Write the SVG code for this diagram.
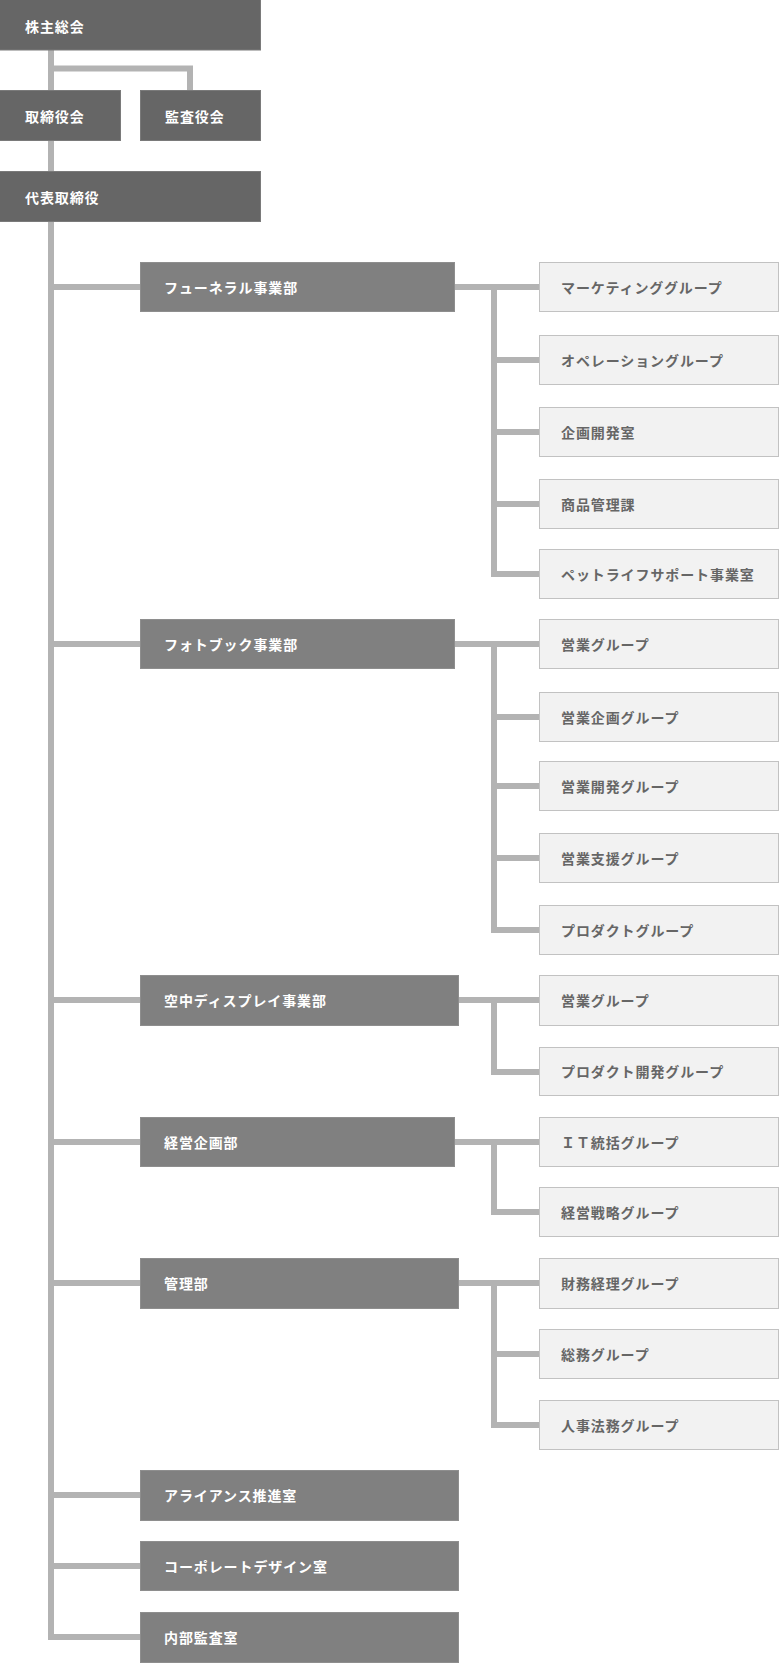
<svg xmlns="http://www.w3.org/2000/svg" width="780" height="1663" viewBox="0 0 780 1663">
<style>
.top{fill:#666666;stroke:#7a7a7a;stroke-width:1}
.div{fill:#808080;stroke:#8e8e8e;stroke-width:1}
.ch{fill:#f2f2f2;stroke:#c2c2c2;stroke-width:1}
text{font-family:"Noto Sans CJK JP","Noto Sans",sans-serif;font-size:14px;font-weight:bold;letter-spacing:0.9px;dominant-baseline:central}
.w{fill:#ffffff}
.g{fill:#666666}
.c{fill:none;stroke:#b3b3b3;stroke-width:6;stroke-linejoin:miter;stroke-linecap:butt}
</style>
<rect width="780" height="1663" fill="#ffffff"/>
<g id="connectors">
<path class="c" d="M51 50 V1637 H140"/>
<path class="c" d="M51 68.5 H190 V90"/>
<path class="c" d="M51 287 H140 M51 644 H140 M51 1000 H140 M51 1142 H140 M51 1283 H140 M51 1495 H140 M51 1566 H140"/>
<path class="c" d="M455 287 H539 M494 287 V574 H539 M494 360 H539 M494 432 H539 M494 504 H539"/>
<path class="c" d="M455 644 H539 M494 644 V930 H539 M494 717 H539 M494 786 H539 M494 858 H539"/>
<path class="c" d="M459 1000 H539 M494 1000 V1072 H539"/>
<path class="c" d="M455 1142 H539 M494 1142 V1212 H539"/>
<path class="c" d="M459 1283 H539 M494 1283 V1425 H539 M494 1354 H539"/>
</g>
<g id="n-kabunushi"><rect class="top" x="-1" y="-1" width="261.5" height="51"/><text class="w" x="25" y="25.5">株主総会</text></g>
<g id="n-torishimariyakukai"><rect class="top" x="-1" y="90.5" width="121.5" height="50"/><text class="w" x="25" y="115.5">取締役会</text></g>
<g id="n-kansayakukai"><rect class="top" x="140.5" y="90.5" width="120" height="50"/><text class="w" x="165" y="115.5">監査役会</text></g>
<g id="n-daihyo"><rect class="top" x="-1" y="171.5" width="261.5" height="50"/><text class="w" x="25" y="196.5">代表取締役</text></g>

<g id="d-funeral"><rect class="div" x="140.5" y="262.5" width="314" height="49"/><text class="w" x="164" y="287">フューネラル事業部</text></g>
<g id="d-photobook"><rect class="div" x="140.5" y="619.5" width="314" height="49"/><text class="w" x="164" y="644">フォトブック事業部</text></g>
<g id="d-kuchu"><rect class="div" x="140.5" y="975.5" width="318" height="50"/><text class="w" x="164" y="1000">空中ディスプレイ事業部</text></g>
<g id="d-keiei"><rect class="div" x="140.5" y="1117.5" width="314" height="49"/><text class="w" x="164" y="1142">経営企画部</text></g>
<g id="d-kanri"><rect class="div" x="140.5" y="1258.5" width="318" height="50"/><text class="w" x="164" y="1283">管理部</text></g>
<g id="d-alliance"><rect class="div" x="140.5" y="1470.5" width="318" height="50"/><text class="w" x="164" y="1495">アライアンス推進室</text></g>
<g id="d-corporate"><rect class="div" x="140.5" y="1541.5" width="318" height="49"/><text class="w" x="164" y="1566">コーポレートデザイン室</text></g>
<g id="d-naibu"><rect class="div" x="140.5" y="1612.5" width="318" height="50"/><text class="w" x="164" y="1637">内部監査室</text></g>

<g id="c-marketing"><rect class="ch" x="539.5" y="262.5" width="239" height="49"/><text class="g" x="561" y="287">マーケティンググループ</text></g>
<g id="c-operation"><rect class="ch" x="539.5" y="335.5" width="239" height="49"/><text class="g" x="561" y="360">オペレーショングループ</text></g>
<g id="c-kikaku"><rect class="ch" x="539.5" y="407.5" width="239" height="49"/><text class="g" x="561" y="432">企画開発室</text></g>
<g id="c-shohin"><rect class="ch" x="539.5" y="479.5" width="239" height="49"/><text class="g" x="561" y="504">商品管理課</text></g>
<g id="c-petlife"><rect class="ch" x="539.5" y="549.5" width="239" height="49"/><text class="g" x="561" y="574">ペットライフサポート事業室</text></g>

<g id="c-eigyo1"><rect class="ch" x="539.5" y="619.5" width="239" height="49"/><text class="g" x="561" y="644">営業グループ</text></g>
<g id="c-eigyokikaku"><rect class="ch" x="539.5" y="692.5" width="239" height="49"/><text class="g" x="561" y="717">営業企画グループ</text></g>
<g id="c-eigyokaihatsu"><rect class="ch" x="539.5" y="761.5" width="239" height="49"/><text class="g" x="561" y="786">営業開発グループ</text></g>
<g id="c-eigyoshien"><rect class="ch" x="539.5" y="833.5" width="239" height="49"/><text class="g" x="561" y="858">営業支援グループ</text></g>
<g id="c-product"><rect class="ch" x="539.5" y="905.5" width="239" height="49"/><text class="g" x="561" y="930">プロダクトグループ</text></g>

<g id="c-eigyo2"><rect class="ch" x="539.5" y="975.5" width="239" height="50"/><text class="g" x="561" y="1000">営業グループ</text></g>
<g id="c-productdev"><rect class="ch" x="539.5" y="1047.5" width="239" height="48"/><text class="g" x="561" y="1071">プロダクト開発グループ</text></g>

<g id="c-it"><rect class="ch" x="539.5" y="1117.5" width="239" height="49"/><text class="g" x="561" y="1142">ＩＴ統括グループ</text></g>
<g id="c-senryaku"><rect class="ch" x="539.5" y="1187.5" width="239" height="49"/><text class="g" x="561" y="1212">経営戦略グループ</text></g>

<g id="c-zaimu"><rect class="ch" x="539.5" y="1258.5" width="239" height="50"/><text class="g" x="561" y="1283">財務経理グループ</text></g>
<g id="c-somu"><rect class="ch" x="539.5" y="1329.5" width="239" height="49"/><text class="g" x="561" y="1354">総務グループ</text></g>
<g id="c-jinji"><rect class="ch" x="539.5" y="1400.5" width="239" height="49"/><text class="g" x="561" y="1425">人事法務グループ</text></g>
</svg>
